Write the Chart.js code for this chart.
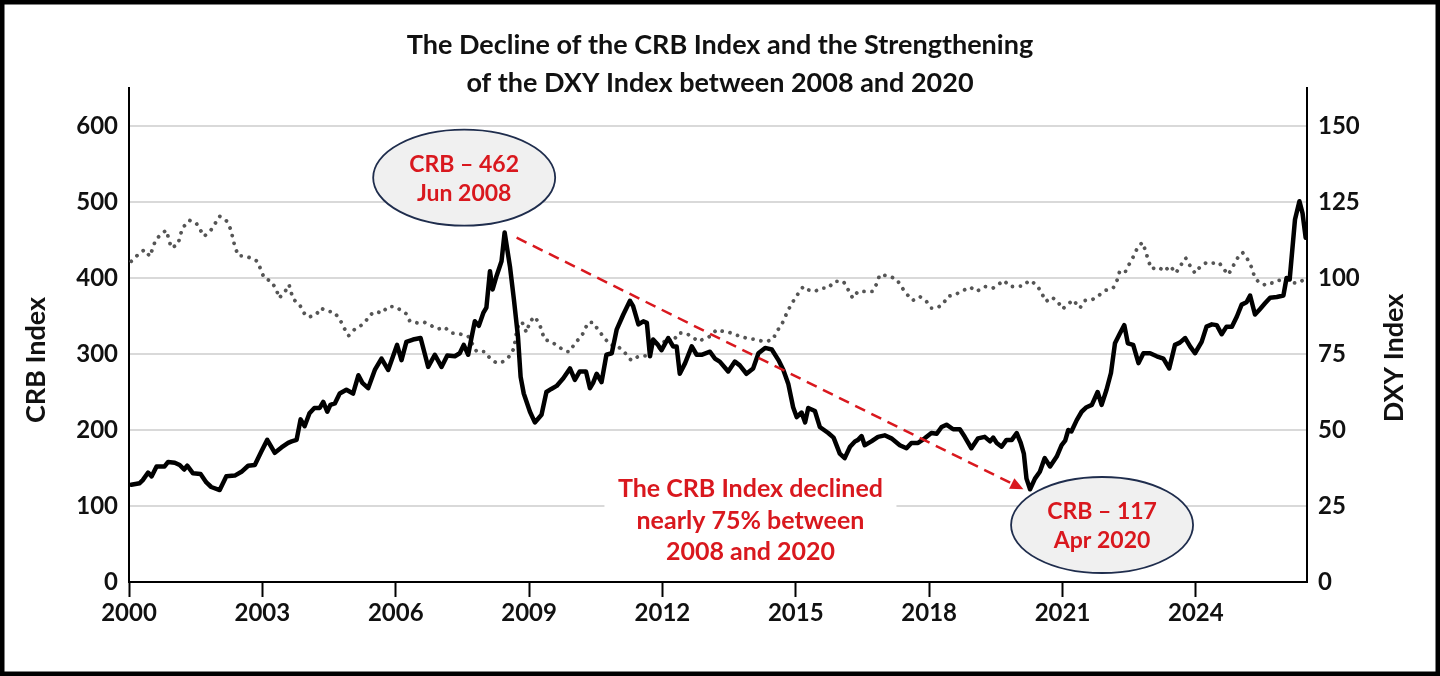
<!DOCTYPE html>
<html>
<head>
<meta charset="utf-8">
<title>CRB Index and DXY Index</title>
<script src="https://cdn.jsdelivr.net/npm/chart.js@4.4.1/dist/chart.umd.min.js"></script>
<style>
  html, body { margin: 0; padding: 0; background: #fff; }
  canvas { display: block; }
</style>
</head>
<body>
<canvas id="crbChart" width="1440" height="676"></canvas>
<script>
// CRB index (decimal year / index level)
const crbYears = [
  2000.05, 2000.24, 2000.31, 2000.43, 2000.51, 2000.62, 2000.80, 2000.88, 2001.03, 2001.14,
  2001.24, 2001.31, 2001.44, 2001.61, 2001.74, 2001.85, 2002.04, 2002.19, 2002.38, 2002.53,
  2002.68, 2002.83, 2002.98, 2003.11, 2003.28, 2003.43, 2003.58, 2003.66, 2003.77, 2003.86,
  2003.95, 2004.06, 2004.17, 2004.29, 2004.37, 2004.46, 2004.53, 2004.63, 2004.74, 2004.89,
  2005.04, 2005.16, 2005.25, 2005.38, 2005.53, 2005.68, 2005.83, 2005.94, 2006.03, 2006.13,
  2006.24, 2006.39, 2006.56, 2006.65, 2006.73, 2006.88, 2007.03, 2007.16, 2007.33, 2007.44,
  2007.53, 2007.63, 2007.70, 2007.78, 2007.87, 2007.97, 2008.04, 2008.12, 2008.18, 2008.27,
  2008.38, 2008.45, 2008.57, 2008.66, 2008.75, 2008.81, 2008.88, 2009.02, 2009.13, 2009.28,
  2009.39, 2009.50, 2009.62, 2009.77, 2009.92, 2010.03, 2010.14, 2010.28, 2010.37, 2010.44,
  2010.52, 2010.63, 2010.74, 2010.86, 2010.97, 2011.12, 2011.27, 2011.34, 2011.46, 2011.57,
  2011.65, 2011.72, 2011.79, 2011.90, 2011.98, 2012.13, 2012.24, 2012.32, 2012.39, 2012.51,
  2012.66, 2012.77, 2012.88, 2013.07, 2013.18, 2013.29, 2013.48, 2013.63, 2013.74, 2013.89,
  2014.04, 2014.16, 2014.31, 2014.46, 2014.61, 2014.72, 2014.83, 2014.94, 2015.02, 2015.13,
  2015.21, 2015.28, 2015.43, 2015.54, 2015.73, 2015.85, 2015.99, 2016.10, 2016.22, 2016.33,
  2016.40, 2016.48, 2016.55, 2016.70, 2016.85, 2017.00, 2017.15, 2017.34, 2017.49, 2017.60,
  2017.75, 2017.90, 2018.05, 2018.17, 2018.28, 2018.39, 2018.54, 2018.69, 2018.80, 2018.95,
  2019.10, 2019.25, 2019.37, 2019.44, 2019.52, 2019.63, 2019.74, 2019.86, 2019.97, 2020.06,
  2020.13, 2020.19, 2020.27, 2020.38, 2020.49, 2020.60, 2020.72, 2020.87, 2020.98, 2021.06,
  2021.13, 2021.20, 2021.32, 2021.43, 2021.54, 2021.66, 2021.79, 2021.88, 2021.99, 2022.09,
  2022.18, 2022.29, 2022.39, 2022.47, 2022.59, 2022.71, 2022.82, 2022.97, 2023.12, 2023.27,
  2023.40, 2023.53, 2023.64, 2023.76, 2023.87, 2023.98, 2024.13, 2024.24, 2024.36, 2024.47,
  2024.58, 2024.69, 2024.81, 2024.92, 2025.03, 2025.14, 2025.22, 2025.33, 2025.44, 2025.56,
  2025.67, 2025.82, 2025.97, 2026.04, 2026.11, 2026.23, 2026.33, 2026.40, 2026.47
];
const crbValues = [
  128, 130, 134, 144, 139, 152, 152, 158, 157, 154,
  148, 153, 143, 142, 131, 125, 121, 139, 140, 145,
  153, 154, 172, 187, 170, 177, 183, 185, 187, 214,
  205, 222, 229, 229, 237, 224, 233, 235, 248, 253,
  248, 272, 262, 255, 279, 294, 279, 297, 312, 292,
  316, 319, 321, 301, 283, 299, 283, 298, 297, 301,
  312, 299, 320, 343, 337, 354, 361, 409, 385, 403,
  422, 460, 415, 371, 323, 270, 248, 224, 210, 220,
  250, 254, 258, 268, 281, 266, 277, 277, 255, 262,
  274, 263, 299, 301, 332, 352, 370, 363, 339, 343,
  341, 297, 319, 312, 305, 321, 310, 310, 274, 288,
  310, 299, 299, 303, 294, 290, 277, 290, 285, 274,
  281, 301, 308, 306, 292, 279, 261, 230, 217, 223,
  210, 229, 225, 204, 196, 190, 169, 163, 178, 185,
  187, 192, 180, 185, 191, 193, 189, 180, 176, 183,
  183, 189, 196, 195, 204, 207, 201, 201, 191, 176,
  189, 191, 185, 190, 183, 178, 187, 187, 196, 183,
  169, 136, 122, 136, 145, 163, 152, 165, 180, 186,
  200, 198, 213, 224, 230, 233, 250, 233, 253, 275,
  314, 327, 338, 314, 312, 288, 301, 301, 297, 294,
  281, 312, 315, 321, 310, 301, 316, 336, 339, 338,
  326, 336, 336, 349, 365, 368, 377, 352, 359, 367,
  374, 375, 377, 400, 398, 477, 501, 485, 453
];

// DXY index (dotted series, right axis)
const dxyYears = [
  2000.05, 2000.24, 2000.35, 2000.47, 2000.60, 2000.75, 2000.84, 2000.95, 2001.10, 2001.20,
  2001.36, 2001.51, 2001.69, 2001.84, 2002.04, 2002.21, 2002.29, 2002.38, 2002.46, 2002.57,
  2002.74, 2002.89, 2003.04, 2003.20, 2003.32, 2003.37, 2003.49, 2003.60, 2003.69, 2003.84,
  2003.92, 2004.04, 2004.22, 2004.31, 2004.48, 2004.61, 2004.74, 2004.84, 2004.94, 2005.08,
  2005.19, 2005.30, 2005.42, 2005.57, 2005.68, 2005.83, 2005.98, 2006.13, 2006.24, 2006.32,
  2006.50, 2006.65, 2006.80, 2006.95, 2007.10, 2007.25, 2007.44, 2007.63, 2007.82, 2008.00,
  2008.12, 2008.27, 2008.42, 2008.57, 2008.66, 2008.72, 2008.78, 2008.85, 2008.94, 2009.02,
  2009.13, 2009.24, 2009.35, 2009.50, 2009.65, 2009.83, 2009.92, 2010.03, 2010.18, 2010.33,
  2010.44, 2010.55, 2010.70, 2010.82, 2011.00, 2011.16, 2011.30, 2011.46, 2011.64, 2011.79,
  2011.94, 2012.09, 2012.24, 2012.36, 2012.51, 2012.66, 2012.81, 2012.96, 2013.07, 2013.22,
  2013.37, 2013.56, 2013.71, 2013.89, 2014.04, 2014.19, 2014.34, 2014.49, 2014.57, 2014.68,
  2014.83, 2014.94, 2015.06, 2015.17, 2015.28, 2015.43, 2015.58, 2015.73, 2015.87, 2016.07,
  2016.18, 2016.28, 2016.40, 2016.55, 2016.73, 2016.82, 2016.89, 2017.08, 2017.27, 2017.38,
  2017.51, 2017.63, 2017.79, 2017.94, 2018.05, 2018.17, 2018.32, 2018.41, 2018.58, 2018.77,
  2018.92, 2019.07, 2019.25, 2019.44, 2019.55, 2019.68, 2019.82, 2019.97, 2020.12, 2020.25,
  2020.42, 2020.53, 2020.63, 2020.76, 2020.89, 2021.00, 2021.11, 2021.24, 2021.39, 2021.51,
  2021.66, 2021.81, 2021.96, 2022.14, 2022.24, 2022.29, 2022.42, 2022.52, 2022.62, 2022.69,
  2022.80, 2022.87, 2022.93, 2023.00, 2023.16, 2023.29, 2023.42, 2023.55, 2023.67, 2023.77,
  2023.87, 2023.98, 2024.09, 2024.24, 2024.39, 2024.52, 2024.64, 2024.73, 2024.84, 2024.94,
  2025.05, 2025.17, 2025.26, 2025.32, 2025.42, 2025.54, 2025.63, 2025.74, 2025.86, 2026.01,
  2026.14, 2026.27, 2026.40, 2026.47
];
const dxyValues = [
  105.5, 108.2, 109.3, 107.1, 112.6, 114.8, 115.7, 109.9, 111.0, 116.4,
  119.0, 118.1, 113.7, 115.7, 120.3, 118.6, 115.9, 110.4, 107.3, 107.3,
  106.6, 105.5, 100.0, 98.9, 96.1, 93.4, 95.0, 97.8, 93.1, 91.2,
  88.7, 87.1, 88.1, 90.1, 89.0, 88.8, 86.5, 83.5, 81.0, 83.2,
  84.1, 85.2, 87.9, 89.0, 88.4, 90.6, 90.6, 89.3, 88.2, 85.7,
  85.2, 85.4, 84.3, 83.2, 83.8, 81.9, 81.6, 80.8, 75.8, 75.8,
  73.6, 72.0, 72.5, 74.4, 76.9, 82.4, 85.4, 85.2, 82.1, 85.7,
  87.3, 84.6, 79.7, 79.1, 77.5, 75.8, 75.8, 78.6, 80.8, 85.4,
  85.4, 83.0, 80.2, 78.0, 77.5, 75.3, 72.9, 74.2, 74.4, 78.6,
  76.9, 80.2, 79.1, 81.9, 81.9, 80.8, 79.1, 80.2, 80.8, 83.0,
  82.4, 81.9, 81.0, 80.2, 79.9, 79.4, 79.1, 79.9, 82.4, 84.6,
  89.5, 92.3, 95.0, 97.2, 96.1, 95.6, 96.7, 96.7, 98.9, 98.9,
  96.1, 93.4, 95.6, 95.6, 95.6, 98.1, 101.1, 100.7, 99.6, 97.0,
  94.5, 92.6, 93.9, 92.3, 90.1, 90.1, 91.5, 93.9, 94.5, 95.9,
  97.0, 95.6, 97.2, 96.7, 97.8, 99.2, 97.2, 97.2, 97.4, 99.2,
  97.8, 95.0, 92.3, 93.7, 92.3, 89.8, 91.2, 92.8, 90.1, 92.6,
  92.8, 94.2, 95.9, 96.7, 99.6, 102.5, 102.2, 105.1, 107.7, 110.2,
  111.7, 108.8, 105.8, 103.0, 103.6, 102.2, 104.0, 101.6, 104.4, 106.6,
  104.0, 101.6, 103.6, 105.1, 104.9, 105.1, 102.7, 101.1, 104.0, 106.6,
  108.4, 106.0, 103.3, 100.3, 98.5, 97.8, 98.5, 98.3, 99.2, 99.4,
  98.5, 98.3, 99.2, 99.6
];

// Axis ticks
const yearTicks = [2000, 2003, 2006, 2009, 2012, 2015, 2018, 2021, 2024];
const crbTicks = [0, 100, 200, 300, 400, 500, 600];
const dxyTicks = [0, 25, 50, 75, 100, 125, 150];

const FONT = 'Lato, "Open Sans", sans-serif';
const RED = '#d9181e';
const TEXT = '#111111';

// call-out bubbles and the trend arrow (in data units)
const peakNote = { year: 2007.54, crb: 532, lines: ['CRB \u2013 462', 'Jun 2008'] };
const troughNote = { year: 2021.89, crb: 75, lines: ['CRB \u2013 117', 'Apr 2020'] };
const trendFrom = { year: 2008.72, crb: 453 };
const trendTo = { year: 2020.12, crb: 122 };
const middleNote = { year: 2013.98, crb: 122, lines: ['The CRB Index declined', 'nearly 75% between', '2008 and 2020'] };

function toPoints(xs, ys) {
  return xs.map((x, i) => ({ x: x, y: ys[i] }));
}

const noteLayer = {
  id: 'noteLayer',
  afterDatasetsDraw(chart) {
    const ctx = chart.ctx;
    const x = chart.scales.x;
    const y = chart.scales.y;
    ctx.save();

    // middle comment with a white backing over the grid line
    const mx = x.getPixelForValue(middleNote.year);
    const my = y.getPixelForValue(middleNote.crb);
    ctx.fillStyle = '#ffffff';
    ctx.fillRect(mx - 146, my - 18, 292, 84);
    ctx.fillStyle = RED;
    ctx.font = 'bold 25px ' + FONT;
    ctx.textAlign = 'center';
    ctx.textBaseline = 'middle';
    middleNote.lines.forEach((t, i) => ctx.fillText(t, mx, my + i * 31.5));

    // dashed trend line with arrow head
    const x0 = x.getPixelForValue(trendFrom.year), y0 = y.getPixelForValue(trendFrom.crb);
    const x1 = x.getPixelForValue(trendTo.year), y1 = y.getPixelForValue(trendTo.crb);
    const ang = Math.atan2(y1 - y0, x1 - x0);
    const head = 13;
    ctx.strokeStyle = RED;
    ctx.lineWidth = 2.5;
    ctx.setLineDash([11, 7]);
    ctx.beginPath();
    ctx.moveTo(x0, y0);
    ctx.lineTo(x1 - head * Math.cos(ang), y1 - head * Math.sin(ang));
    ctx.stroke();
    ctx.setLineDash([]);
    ctx.fillStyle = RED;
    ctx.beginPath();
    ctx.moveTo(x1, y1);
    ctx.lineTo(x1 - head * Math.cos(ang) + 6 * Math.sin(ang), y1 - head * Math.sin(ang) - 6 * Math.cos(ang));
    ctx.lineTo(x1 - head * Math.cos(ang) - 6 * Math.sin(ang), y1 - head * Math.sin(ang) + 6 * Math.cos(ang));
    ctx.closePath();
    ctx.fill();

    // bubbles
    [peakNote, troughNote].forEach(n => {
      const cx = x.getPixelForValue(n.year);
      const cy = y.getPixelForValue(n.crb);
      ctx.beginPath();
      ctx.ellipse(cx, cy, 91, 48, 0, 0, Math.PI * 2);
      ctx.fillStyle = '#f0f0f0';
      ctx.fill();
      ctx.lineWidth = 1.8;
      ctx.strokeStyle = '#1f2d4d';
      ctx.stroke();
      ctx.fillStyle = RED;
      ctx.font = 'bold 23px ' + FONT;
      ctx.fillText(n.lines[0], cx, cy - 13);
      ctx.fillText(n.lines[1], cx, cy + 16);
    });
    ctx.restore();
  },
  afterDraw(chart) {
    const ctx = chart.ctx;
    ctx.save();
    // axis titles, both reading upwards
    ctx.fillStyle = TEXT;
    ctx.font = 'bold 27px ' + FONT;
    ctx.textAlign = 'center';
    ctx.textBaseline = 'middle';
    [[36, 360, 'CRB Index'], [1394, 358, 'DXY Index']].forEach(([tx, ty, t]) => {
      ctx.save();
      ctx.translate(tx, ty);
      ctx.rotate(-Math.PI / 2);
      ctx.fillText(t, 0, 0);
      ctx.restore();
    });
    // outer frame
    ctx.strokeStyle = '#000';
    ctx.lineWidth = 9;
    ctx.strokeRect(0, 0, chart.width, chart.height);
    ctx.restore();
  }
};

const ctx = document.getElementById('crbChart').getContext('2d');

const chart = new Chart(ctx, {
  type: 'line',
  data: {
    datasets: [
      {
        label: 'CRB Index',
        data: toPoints(crbYears, crbValues),
        yAxisID: 'y',
        borderColor: '#000000',
        borderWidth: 4.5,
        borderJoinStyle: 'round',
        borderCapStyle: 'round',
        pointRadius: 0,
        tension: 0,
      },
      {
        label: 'DXY Index',
        data: toPoints(dxyYears, dxyValues),
        yAxisID: 'y2',
        borderColor: '#555555',
        borderWidth: 3.8,
        borderDash: [0.01, 8],
        borderCapStyle: 'round',
        pointRadius: 0,
        tension: 0,
      },
    ],
  },
  options: {
    responsive: false,
    animation: false,
    layout: { padding: 0 },
    plugins: {
      legend: { display: false },
      tooltip: { enabled: false },
      title: {
        display: true,
        text: ['The Decline of the CRB Index and the Strengthening', 'of the DXY Index between 2008 and 2020'],
        color: TEXT,
        font: { family: FONT, size: 27, weight: 'bold', lineHeight: 38 / 27 },
        padding: { top: 26, bottom: -14 },
      },
    },
    scales: {
      x: {
        type: 'linear',
        min: 2000,
        max: 2026.5,
        afterBuildTicks: s => { s.ticks = yearTicks.map(v => ({ value: v })); },
        afterFit: s => { s.height = 94; },
        grid: { drawOnChartArea: false, drawTicks: true, tickLength: 15, tickWidth: 2, tickColor: '#000' },
        border: { display: true, color: '#000', width: 2 },
        ticks: { color: TEXT, font: { family: FONT, size: 24, weight: 'bold' }, padding: 2, maxRotation: 0, callback: v => String(v) },
      },
      y: {
        position: 'left',
        min: 0,
        max: 650,
        afterBuildTicks: s => { s.ticks = crbTicks.map(v => ({ value: v })); },
        afterFit: s => { s.width = 129; },
        grid: { color: '#d9d9d9', lineWidth: 2, drawTicks: false },
        border: { display: true, color: '#000', width: 2 },
        ticks: { color: TEXT, font: { family: FONT, size: 24, weight: 'bold' }, padding: 11 },
      },
      y2: {
        position: 'right',
        min: 0,
        max: 162.5,
        afterBuildTicks: s => { s.ticks = dxyTicks.map(v => ({ value: v })); },
        afterFit: s => { s.width = 133; },
        grid: { drawOnChartArea: false, drawTicks: false },
        border: { display: true, color: '#000', width: 2 },
        ticks: { color: TEXT, font: { family: FONT, size: 24, weight: 'bold' }, padding: 11 },
      },
    },
  },
  plugins: [noteLayer],
});
</script>
</body>
</html>
